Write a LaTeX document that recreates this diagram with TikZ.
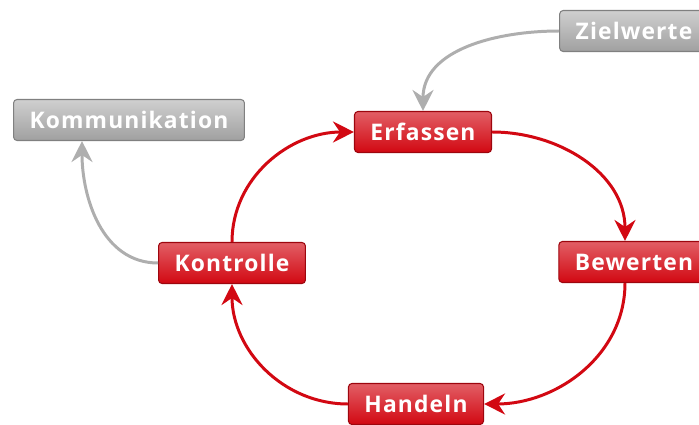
\documentclass[tikz,border=0pt]{standalone}
\usepackage{fontspec}
\setmainfont[LetterSpace=5]{Open Sans}
\usepackage{tikz}
\usetikzlibrary{arrows.meta}
\definecolor{boxred}{RGB}{210,8,18}
\definecolor{boxgray}{RGB}{160,160,160}

\begin{document}
\begin{tikzpicture}[->,>={Stealth[length=4.2mm,width=4.2mm,inset=1.4mm]},x=0.2mm,y=-0.2mm,line width=1.7pt]
\tikzstyle{every node}=[rounded corners=2pt,minimum height=8.2mm,inner xsep=3.2mm,text=white,font=\fontsize{13pt}{15}\bfseries\selectfont]
\tikzstyle{redbox}=[top color=boxred!65!white,bottom color=boxred,draw=boxred!75!black,line width=0.6pt]
\tikzstyle{graybox}=[top color=boxgray!50!white,bottom color=boxgray,draw=boxgray!80!black,line width=0.6pt]

  \clip (0,0) rectangle (699,425);

        \node[redbox]   (E)  at (423,132) {Erfassen};
        \node[redbox]   (B)  at (634,262) {Bewerten};
        \node[redbox]   (H)  at (416,404) {Handeln};
        \node[redbox]   (K)  at (232,263) {Kontrolle};
        \node[graybox]  (Z)  at (634,31)  {Zielwerte};
        \node[graybox]  (Ko) at (129,120) {Kommunikation};

        % cycle
        \path[color=boxred]
        (E.east) edge[out=0,in=90]                 ([xshift=-1.8mm]B.north)
        ([xshift=-1.8mm]B.south) edge[out=-90,in=0] (H.east)
        (H.west) edge[out=180,in=-90]              (K.south)
        (K.north) edge[out=90,in=180]              (E.west)
        ; %end path

        % inputs and outputs
        \path[color=boxgray!85!white]
        (Z.west) edge[out=180,in=90]               (E.north)
        (K.west) edge[out=180,in=-90]              ([xshift=-9.4mm]Ko.south)
        ; %end path

\end{tikzpicture}
\end{document}
